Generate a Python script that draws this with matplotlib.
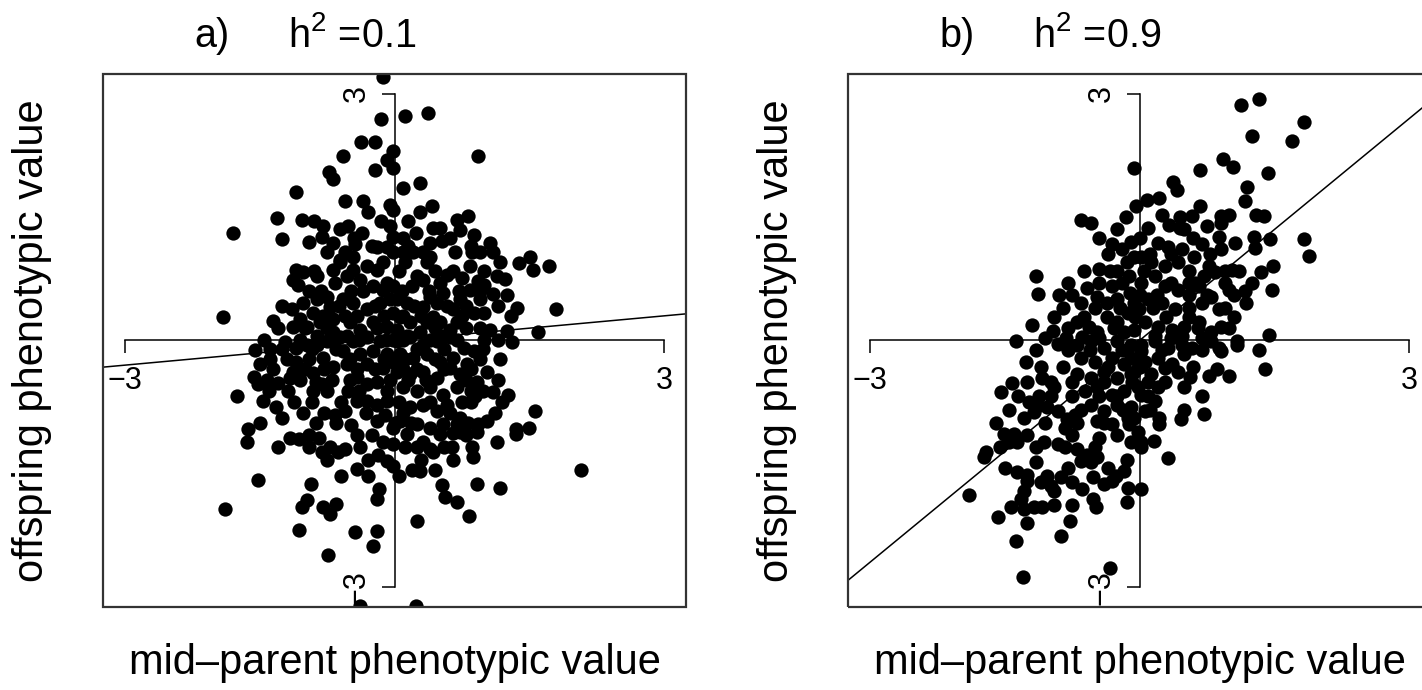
import matplotlib.pyplot as plt
from matplotlib.patches import Rectangle

plt.rcParams['font.family'] = ['Liberation Sans', 'DejaVu Sans']
plt.rcParams['mathtext.default'] = 'regular'

# heritabilities and panel tags
h2 = [0.1, 0.9]
tags = ['a)', 'b)']
ticks = [-3, 3]
xlab = 'mid\u2013parent phenotypic value'
ylab = 'offspring phenotypic value'

# (mid-parent, offspring) pairs, h2 = 0.1
pairs_a = [
    (-0.13, 3.20), (-0.15, 2.69), (-0.37, 2.41), (-0.22, 2.41), (-0.57, 2.24), (-0.73, 2.05),
    (-0.68, 1.96), (-0.22, 2.07), (-0.02, 2.30), (-0.08, 2.20), (-0.02, 2.10), (-1.10, 1.81),
    (-1.31, 1.49), (-1.03, 1.46), (-1.79, 1.31), (-1.25, 1.24), (-0.30, 1.56), (-0.05, 1.65),
    (-0.02, 1.59), (-0.79, 1.39), (-0.61, 1.35), (-0.52, 1.39), (-0.36, 1.31), (-0.95, 1.20),
    (-0.81, 1.26), (-0.68, 1.19), (-0.55, 1.08), (-0.44, 1.17), (-0.75, 1.07), (-0.61, 0.98),
    (-0.46, 1.02), (-0.05, 1.39), (-0.02, 1.26), (-0.08, 1.14), (-0.19, 1.14), (-0.02, 1.07),
    (-1.09, 0.86), (-1.13, 0.74), (-1.02, 0.83), (-0.86, 0.78), (-1.07, 0.68), (-0.68, 0.86),
    (-0.61, 0.95), (-0.46, 0.86), (-0.31, 0.90), (-0.19, 0.86), (-0.13, 0.95), (-0.66, 0.70),
    (-0.53, 0.78), (-0.38, 0.74), (-0.24, 0.66), (-0.13, 0.62), (-0.08, 0.70), (-1.91, 0.28),
    (-1.35, 0.24), (-1.14, 0.38), (-1.02, 0.46), (-0.86, 0.50), (-0.75, 0.53), (-0.72, 0.41),
    (-0.91, 0.34), (-1.05, 0.26), (-1.13, 0.17), (-0.97, 0.17), (-0.83, 0.22), (-0.68, 0.26),
    (-0.57, 0.50), (-0.46, 0.46), (-0.31, 0.38), (-0.16, 0.46), (-0.05, 0.50), (-0.50, 0.22),
    (-0.38, 0.13), (-0.24, 0.22), (-0.08, 0.17), (-0.68, 0.10), (-0.53, 0.05), (-0.86, 0.05),
    (-0.02, 0.34),
    (0.12, 2.73), (0.37, 2.76), (0.93, 2.24), (0.28, 1.92), (0.28, 1.56), (0.42, 1.63),
    (0.69, 1.47), (0.82, 1.51), (0.73, 1.34), (0.88, 1.28), (0.43, 1.37), (0.51, 1.37),
    (0.24, 1.31), (1.06, 1.19), (1.10, 1.08), (0.67, 1.07), (0.86, 1.07), (0.95, 1.07),
    (0.53, 1.21), (0.40, 1.19), (0.32, 1.08), (0.40, 1.02), (0.09, 1.08), (0.21, 1.08),
    (0.12, 0.95), (0.36, 0.95), (0.84, 0.91), (1.17, 0.95), (1.38, 0.94), (1.51, 1.02),
    (1.54, 0.86), (1.72, 0.91), (0.25, 0.78), (0.32, 0.74), (0.19, 0.66), (0.58, 0.80),
    (0.51, 0.70), (0.75, 0.76), (0.93, 0.72), (0.99, 0.68), (1.14, 0.78), (1.23, 0.75),
    (0.84, 0.62), (1.09, 0.56), (1.25, 0.55), (1.36, 0.39), (1.80, 0.38), (0.95, 0.50),
    (0.88, 0.34), (0.99, 0.34), (0.73, 0.50), (0.65, 0.38), (0.70, 0.22), (0.62, 0.13),
    (1.06, 0.13), (1.25, 0.11), (1.59, 0.10), (0.40, 0.53), (0.32, 0.41), (0.47, 0.46),
    (0.54, 0.58), (0.43, 0.29), (0.36, 0.22), (0.51, 0.22), (0.54, 0.05), (0.03, 0.50),
    (0.14, 0.46), (0.06, 0.29), (0.17, 0.22), (0.03, 0.13), (0.14, 0.05), (0.28, 0.10),
    (-0.02, 0.66),
    (-1.55, -0.12), (-1.38, -0.10), (-1.22, -0.02), (-1.09, -0.09), (-0.97, -0.05), (-1.49, -0.29),
    (-1.56, -0.44), (-1.52, -0.53), (-1.75, -0.67), (-1.30, -0.52), (-1.19, -0.23), (-1.09, -0.26),
    (-1.16, -0.45), (-1.13, -0.38), (-1.46, -0.74), (-1.32, -0.81), (-1.25, -0.94), (-1.63, -1.07),
    (-1.64, -1.24), (-1.16, -1.18), (-1.06, -1.20), (-0.87, -1.00), (-0.84, -1.18), (-0.81, -1.36),
    (-0.72, -1.30), (-0.63, -1.36), (-0.55, -1.32), (-0.66, -0.90), (-0.55, -0.86), (-0.48, -1.03),
    (-0.87, -0.50), (-0.91, -0.62), (-0.81, -0.53), (-0.91, -0.39), (-0.52, -0.61), (-0.80, -0.21),
    (-0.68, -0.32), (-0.53, -0.29), (-0.42, -0.44), (-0.31, -0.53), (-0.19, -0.50), (-0.42, -0.74),
    (-0.31, -0.74), (-0.19, -0.78), (-0.08, -0.74), (-0.19, -0.98), (-0.11, -0.90), (-0.02, -1.06),
    (-0.13, -1.24), (-0.02, -1.26), (-0.18, -1.39), (-0.08, -1.47), (-0.02, -1.53), (-0.42, -1.56),
    (-1.52, -1.70), (-0.93, -1.74), (-0.97, -1.94), (-1.03, -2.03), (-0.79, -2.02), (-0.65, -1.99),
    (-0.72, -2.11), (-1.88, -2.05), (-0.17, -1.80), (-0.19, -1.93), (-1.06, -2.30), (-0.44, -2.33),
    (-0.19, -2.32), (-0.24, -2.50), (-0.74, -2.61), (-0.38, -3.23), (-0.61, 0.04), (-0.46, -0.01),
    (-0.31, 0.04), (-0.16, -0.01), (-0.02, 0.01), (-0.57, -0.13), (-0.38, -0.17), (-0.24, -0.13),
    (-0.08, -0.17), (-0.31, -0.29), (-0.13, -0.33), (-0.02, -0.26), (-0.86, -0.05), (-0.75, -0.01),
    (1.31, -0.02), (1.17, -0.23), (1.03, -0.38), (0.92, -0.50), (1.10, -0.63), (1.26, -0.66),
    (1.20, -0.75), (1.56, -0.86), (1.50, -1.06), (1.35, -1.08), (1.35, -1.14), (1.03, -0.98),
    (0.93, -1.02), (0.92, -1.11), (1.14, -1.24), (0.90, -0.68), (0.75, -0.75), (0.73, -0.94),
    (2.07, -1.57), (0.86, -1.29), (0.87, -1.42), (0.65, -1.12), (0.64, -1.29), (0.73, -1.11),
    (0.43, -1.36), (0.40, -1.32), (0.12, -1.30), (0.45, -1.57), (0.19, -1.57), (0.28, -1.59),
    (0.92, -1.74), (1.17, -1.79), (0.53, -1.76), (0.56, -1.90), (0.70, -1.96), (0.83, -2.13),
    (0.25, -2.19), (0.24, -3.23), (0.03, -0.01), (0.17, 0.04), (0.32, -0.05), (0.47, -0.01),
    (0.62, 0.04), (0.77, -0.09), (0.88, -0.13), (0.06, -0.17), (0.21, -0.21), (0.36, -0.17),
    (0.51, -0.26), (0.65, -0.21), (0.81, -0.29), (0.03, -0.38), (0.17, -0.41), (0.32, -0.38),
    (0.47, -0.45), (0.62, -0.33), (0.73, -0.41), (0.09, -0.57), (0.25, -0.62), (0.40, -0.57),
    (0.54, -0.66), (0.70, -0.57), (0.17, -0.81), (0.32, -0.78), (0.47, -0.86), (0.58, -0.78),
    (0.06, -0.98), (0.25, -1.02), (0.40, -1.06), (0.54, -1.02), (0.70, -1.02), (0.32, -1.23),
    (0.51, -1.14), (0.14, -1.14),
    # crowded centre
    (-0.45, 1.25), (0.10, 1.25), (0.62, 1.25), (-0.25, 1.15), (0.15, 1.15), (0.85, 1.15),
    (-0.90, 0.85), (0.05, 0.85), (0.45, 0.85), (0.65, 0.85), (1.00, 0.85),
    (-0.95, 0.60), (-0.82, 0.60), (-0.48, 0.60), (-0.35, 0.60), (0.08, 0.60), (0.38, 0.60),
    (0.72, 0.60), (0.95, 0.60), (-1.25, 0.42), (-0.62, 0.42), (-0.22, 0.42), (0.22, 0.42),
    (0.58, 0.42), (0.80, 0.42), (1.15, 0.42), (-0.80, 0.30), (-0.55, 0.30), (-0.42, 0.30),
    (-0.12, 0.30), (0.10, 0.30), (0.30, 0.30), (0.75, 0.30), (1.30, 0.30), (-1.30, 0.15),
    (-1.00, 0.15), (-0.75, 0.15), (-0.20, 0.15), (0.45, 0.15), (0.80, 0.15), (0.95, 0.15),
    (-1.45, 0.00), (-1.05, 0.00), (-0.68, 0.00), (-0.40, 0.00), (-0.10, 0.00), (0.10, 0.00),
    (0.40, 0.00), (0.70, 0.00), (1.00, 0.00), (1.15, 0.00), (-1.25, -0.10), (-0.92, -0.10),
    (-0.65, -0.10), (0.25, -0.10), (0.55, -0.10), (0.98, -0.10), (-1.38, -0.22), (-0.95, -0.22),
    (-0.50, -0.22), (-0.12, -0.22), (0.12, -0.22), (0.45, -0.22), (0.95, -0.22), (-1.35, -0.35),
    (-1.00, -0.35), (-0.78, -0.35), (-0.42, -0.35), (-0.22, -0.35), (0.10, -0.35), (0.25, -0.35),
    (0.55, -0.35), (0.85, -0.35), (-1.42, -0.48), (-1.05, -0.48), (-0.70, -0.48), (-0.50, -0.48),
    (-0.05, -0.48), (0.15, -0.48), (0.35, -0.48), (0.80, -0.48), (1.15, -0.48), (-1.40, -0.62),
    (-1.18, -0.62), (-0.75, -0.62), (-0.40, -0.62), (-0.08, -0.62), (0.85, -0.62), (0.98, -0.62),
    (-1.12, -0.75), (-0.92, -0.75), (-0.60, -0.75), (0.05, -0.75), (0.40, -0.75), (0.85, -0.75),
    (-1.02, -0.88), (-0.78, -0.88), (-0.32, -0.88), (0.10, -0.88), (0.62, -0.88), (1.12, -0.88),
    (-1.50, -1.00), (-0.65, -1.00), (0.00, -1.00), (0.18, -1.00), (0.82, -1.00),
    (-0.95, -1.15), (-0.42, -1.15), (-0.25, -1.15), (0.80, -1.15), (-1.30, -1.30), (-0.95, -1.30),
    (-0.38, -1.30), (0.25, -1.30), (0.55, -1.30), (-0.75, -1.45), (-0.30, -1.45), (0.30, -1.45),
    (0.65, -1.45), (-0.60, -1.65), (-0.30, -1.65), (0.05, -1.65), (-0.90, 1.45), (-0.15, 1.45),
    (0.15, 1.45), (-0.55, 1.70), (-0.35, 1.70), (0.10, 1.85),
]

# (mid-parent, offspring) pairs, h2 = 0.9
pairs_b = [
    (-0.06, 2.10), (-0.04, 1.63), (-0.65, 1.46), (-0.54, 1.43), (-0.25, 1.35), (-0.31, 1.17),
    (-0.20, 1.11), (-0.09, 1.20), (-0.14, 0.95), (-0.06, 1.02), (-0.45, 0.87), (-0.33, 0.84),
    (-1.15, 0.78), (-1.13, 0.57), (-0.58, 0.64), (-0.47, 0.53), (-0.65, 0.46), (-0.31, 0.66),
    (-0.20, 0.70), (-0.36, 0.46), (-0.25, 0.50), (-0.11, 0.58), (-0.36, 0.29), (-0.25, 0.22),
    (-0.13, 0.34), (-0.06, 0.46), (-1.20, 0.19), (-0.96, 0.12), (-0.69, 0.23), (-0.56, 0.17),
    (-0.47, 0.10), (-1.37, -0.01), (-0.64, 0.04), (-0.17, 0.10), (-0.06, 0.13),
    (1.33, 2.93), (1.13, 2.86), (1.83, 2.66), (1.25, 2.49), (1.69, 2.42), (0.93, 2.21),
    (1.04, 2.11), (0.67, 2.07), (1.43, 2.04), (0.37, 1.93), (0.42, 1.83), (1.19, 1.87),
    (1.17, 1.70), (0.08, 1.71), (0.22, 1.73), (0.25, 1.53), (0.67, 1.63), (0.58, 1.51),
    (0.91, 1.51), (1.00, 1.53), (1.30, 1.53), (1.38, 1.51), (0.33, 1.41), (0.45, 1.37),
    (0.49, 1.35), (0.75, 1.39), (0.09, 1.37), (0.91, 1.43), (1.27, 1.26), (1.28, 1.13),
    (1.45, 1.23), (1.83, 1.23), (1.88, 1.03), (1.06, 1.19), (0.88, 1.26), (0.91, 1.11),
    (0.69, 1.17), (0.61, 1.02), (0.47, 1.11), (0.21, 1.19), (0.32, 1.14), (0.02, 1.02),
    (0.13, 0.95), (0.28, 0.90), (0.43, 0.96), (0.77, 0.90), (0.84, 0.83), (0.72, 0.78),
    (1.03, 0.86), (1.11, 0.84), (1.35, 0.83), (1.48, 0.91), (1.47, 0.61), (1.17, 0.60),
    (1.18, 0.46), (0.95, 0.70), (0.99, 0.62), (1.44, 0.07), (0.55, 0.70), (0.66, 0.66),
    (0.43, 0.62), (0.80, 0.53), (0.69, 0.46), (0.88, 0.38), (0.91, 0.17), (0.66, 0.22),
    (0.80, 0.10), (1.08, -0.01), (0.17, 0.78), (0.02, 0.70), (0.28, 0.66), (-0.12, 0.78),
    (0.10, 0.50), (0.25, 0.46), (0.39, 0.38), (-0.01, 0.38), (0.06, 0.22), (0.21, 0.17),
    (0.36, 0.13), (0.50, 0.17), (0.17, 0.05), (0.47, 0.05),
    (-0.91, -0.04), (-1.26, -0.26), (-1.42, -0.52), (-1.54, -0.63), (-1.08, -0.45), (-0.95, -0.57),
    (-0.98, -0.50), (-1.23, -0.75), (-1.14, -0.80), (-1.17, -0.87), (-1.28, -0.94), (-1.03, -0.81),
    (-0.98, -0.68), (-1.51, -1.14), (-1.39, -1.14), (-1.36, -1.23), (-1.45, -1.23), (-1.71, -1.36),
    (-1.73, -1.42), (-1.06, -1.23), (-0.91, -0.86), (-0.81, -0.96), (-0.72, -0.90), (-0.83, -1.06),
    (-0.91, -1.26), (-0.83, -1.30), (-0.69, -1.32), (-0.58, -1.39), (-0.65, -1.47), (-0.54, -1.48),
    (-0.47, -1.42), (-0.45, -1.18), (-0.14, -1.45), (-1.15, -1.48), (-1.36, -1.60), (-1.25, -1.63),
    (-1.25, -1.71), (-1.03, -1.65), (-0.87, -1.66), (-0.95, -1.83), (-0.98, -1.77), (-0.64, -1.81),
    (-0.52, -1.66), (-0.39, -1.75), (-0.31, -1.71), (-0.26, -1.65), (-0.13, -1.79), (-0.14, -1.96),
    (0.02, -1.81), (-0.52, -1.93), (-0.48, -2.02), (-1.90, -1.88), (-1.28, -1.83), (-1.32, -1.93),
    (-1.43, -2.03), (-1.28, -2.05), (-1.17, -2.03), (-1.08, -2.03), (-1.57, -2.15), (-1.25, -2.22),
    (-0.77, -2.20), (-0.87, -2.38), (-1.37, -2.44), (-1.30, -2.87), (-0.33, -2.77),
    (-0.69, -0.05), (-0.54, -0.01), (-0.39, -0.09), (-0.25, -0.01), (-0.09, -0.05), (0.02, -0.13),
    (-0.65, -0.21), (-0.50, -0.26), (-0.31, -0.21), (-0.17, -0.29), (-0.02, -0.26), (-0.69, -0.41),
    (-0.54, -0.45), (-0.39, -0.38), (-0.25, -0.45), (-0.09, -0.41), (-0.61, -0.62), (-0.47, -0.57),
    (-0.31, -0.66), (-0.17, -0.62), (-0.02, -0.57), (-0.54, -0.78), (-0.39, -0.86), (-0.25, -0.78),
    (-0.09, -0.81), (-0.47, -0.98), (-0.31, -1.02), (-0.13, -0.94), (-0.02, -1.11), (-0.09, -1.23),
    (1.33, -0.11), (1.40, -0.35), (1.08, -0.06), (0.88, -0.09), (0.91, -0.13), (0.80, -0.01),
    (0.56, -0.44), (0.77, -0.43), (0.86, -0.35), (0.99, -0.43), (0.50, -0.57), (0.69, -0.68),
    (0.49, -0.84), (0.46, -0.96), (0.72, -0.89), (0.32, -1.43), (0.16, -1.22), (0.02, -1.30),
    (-0.17, -1.59), (0.22, -0.94), (0.22, -1.02), (0.17, -0.74), (0.21, -0.57), (0.28, -0.51),
    (0.02, -0.66), (0.06, -0.86), (-0.06, -0.94), (-0.12, -1.02), (0.02, -1.23), (0.02, -0.05),
    (0.17, -0.01), (0.32, -0.09), (0.47, -0.05), (0.58, -0.09), (-0.09, -0.21), (0.06, -0.26),
    (0.21, -0.21), (0.36, -0.29), (0.50, -0.17), (-0.06, -0.38), (0.13, -0.41), (0.28, -0.33),
    (0.43, -0.38),
    # crowded centre along the diagonal
    (-0.15, 1.50), (0.45, 1.50), (-0.45, 1.25), (0.00, 1.25), (0.60, 1.25),
    (-0.35, 1.05), (0.12, 1.05), (0.35, 1.05), (0.78, 1.05), (-0.62, 0.85), (-0.25, 0.85),
    (0.05, 0.85), (0.55, 0.85), (0.95, 0.85), (-0.80, 0.70), (-0.45, 0.70), (0.35, 0.70),
    (0.62, 0.70), (1.25, 0.70), (-0.90, 0.55), (-0.75, 0.55), (0.00, 0.55), (0.20, 0.55),
    (0.55, 0.55), (0.75, 0.55), (1.05, 0.55), (-0.85, 0.40), (-0.50, 0.40), (-0.22, 0.40),
    (0.15, 0.40), (0.55, 0.40), (0.95, 0.40), (-0.95, 0.28), (-0.62, 0.28), (-0.05, 0.28),
    (0.30, 0.28), (0.55, 0.28), (1.05, 0.28), (-0.80, 0.15), (-0.28, 0.15), (0.65, 0.15),
    (1.00, 0.15), (-1.05, 0.03), (-0.82, 0.03), (-0.45, 0.03), (0.35, 0.03), (0.70, 0.03),
    (-1.15, -0.12), (-0.80, -0.12), (-0.55, -0.12), (-0.20, -0.12), (0.25, -0.12), (0.70, -0.12),
    (-1.10, -0.32), (-0.85, -0.32), (-0.35, -0.32), (0.00, -0.32), (0.60, -0.32), (-1.25, -0.50),
    (-0.75, -0.50), (-0.40, -0.50), (-0.08, -0.50), (0.10, -0.50), (-1.35, -0.68), (-1.12, -0.68),
    (-0.75, -0.68), (-0.45, -0.68), (-0.25, -0.68), (0.10, -0.68), (-1.45, -0.85), (-0.65, -0.85),
    (-0.18, -0.85), (0.12, -0.85), (-1.60, -1.00), (-1.05, -1.00), (-0.70, -1.00), (-0.40, -1.00),
    (-1.25, -1.15), (-0.75, -1.15), (-0.25, -1.15), (-1.55, -1.30), (-1.15, -1.30), (-0.50, -1.30),
    (-1.50, -1.55), (-0.80, -1.55), (-0.35, -1.55), (-1.10, -1.72), (-0.75, -1.72), (-0.95, -2.00),
    (-0.75, -2.00),
]


def draw_panel(ax, pairs, h, tag):
    x, y = zip(*pairs)
    ax.plot(x, y, 'o', color='black', ms=10.3, mew=0, zorder=3)
    # regression line, slope = h2
    ax.axline((0, 0), slope=h, color='black', lw=1.1, zorder=2)
    ax.set_xlim(-3.24, 3.24)
    ax.set_ylim(-3.24, 3.24)

    # axes cross at the origin, box drawn separately
    ax.spines['top'].set_visible(False)
    ax.spines['right'].set_visible(False)
    for side in ('left', 'bottom'):
        ax.spines[side].set_position(('data', 0))
        ax.spines[side].set_bounds(-3, 3)
        ax.spines[side].set_linewidth(1.1)
        ax.spines[side].set_zorder(1)
    ax.set_xticks(ticks)
    ax.set_yticks(ticks)
    ax.tick_params(length=9.4, width=1.1, labelsize=22)
    ax.tick_params(axis='x', pad=8.8)
    ax.tick_params(axis='y', pad=7.0, labelrotation=90)
    for lb in ax.get_yticklabels():
        lb.set_va('center')

    ax.add_patch(Rectangle((0, 0), 1, 1, transform=ax.transAxes, fill=False,
                           lw=1.6, ec='#333333', clip_on=False, zorder=5))

    ax.set_xlabel(xlab, fontsize=30, va='baseline')
    ax.xaxis.set_label_coords(0.5, -0.126)
    ax.set_ylabel(ylab, fontsize=30, va='baseline', ha='center',
                  rotation_mode='anchor')
    ax.yaxis.set_label_coords(-0.103, 0.5)

    ax.text(0.187, 1.0507, tag, transform=ax.transAxes, ha='center',
            va='baseline', fontsize=28.5)
    ax.text(0.317, 1.0507, r'$h^2$ =%.1f' % h, transform=ax.transAxes,
            ha='left', va='baseline', fontsize=28.5)


fig = plt.figure(figsize=(14.22, 6.9), dpi=100)
ax_a = fig.add_axes([103 / 1422, 83 / 690, 583 / 1422, 533 / 690])
ax_b = fig.add_axes([848 / 1422, 83 / 690, 583 / 1422, 533 / 690])
draw_panel(ax_a, pairs_a, h2[0], tags[0])
draw_panel(ax_b, pairs_b, h2[1], tags[1])
fig.savefig('out.png', dpi=100)
